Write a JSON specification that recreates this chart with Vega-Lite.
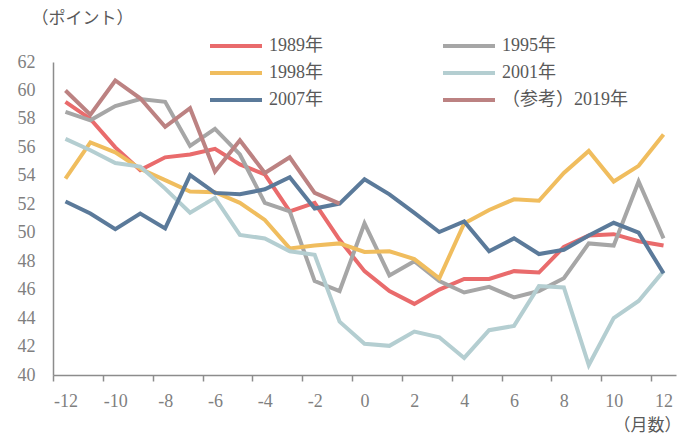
{
  "$schema": "https://vega.github.io/schema/vega-lite/v6.json",
  "width": 623,
  "height": 313,
  "autosize": {"type": "none"},
  "padding": {"left": 53, "top": 62, "right": 18, "bottom": 61},
  "background": "white",
  "config": {
    "view": {"stroke": null},
    "font": "'Liberation Serif', 'Noto Sans CJK JP', serif",
    "axis": {"labelFont": "'Liberation Serif', 'Noto Sans CJK JP', serif", "titleFont": "'Liberation Serif', 'Noto Sans CJK JP', serif"},
    "legend": {"labelFont": "'Liberation Serif', 'Noto Sans CJK JP', serif"}
  },
  "data": {"values": [
    {"m": -12, "s": "1989年", "v": 59.2}, {"m": -11, "s": "1989年", "v": 58.0}, {"m": -10, "s": "1989年", "v": 56.0}, {"m": -9, "s": "1989年", "v": 54.4}, {"m": -8, "s": "1989年", "v": 55.3}, {"m": -7, "s": "1989年", "v": 55.5}, {"m": -6, "s": "1989年", "v": 55.9}, {"m": -5, "s": "1989年", "v": 54.8}, {"m": -4, "s": "1989年", "v": 54.1}, {"m": -3, "s": "1989年", "v": 51.5}, {"m": -2, "s": "1989年", "v": 52.1}, {"m": -1, "s": "1989年", "v": 49.5}, {"m": 0, "s": "1989年", "v": 47.3}, {"m": 1, "s": "1989年", "v": 45.9}, {"m": 2, "s": "1989年", "v": 45.0}, {"m": 3, "s": "1989年", "v": 46.0}, {"m": 4, "s": "1989年", "v": 46.75}, {"m": 5, "s": "1989年", "v": 46.75}, {"m": 6, "s": "1989年", "v": 47.3}, {"m": 7, "s": "1989年", "v": 47.2}, {"m": 8, "s": "1989年", "v": 49.0}, {"m": 9, "s": "1989年", "v": 49.8}, {"m": 10, "s": "1989年", "v": 49.9}, {"m": 11, "s": "1989年", "v": 49.4}, {"m": 12, "s": "1989年", "v": 49.1},
    {"m": -12, "s": "1995年", "v": 58.5}, {"m": -11, "s": "1995年", "v": 57.9}, {"m": -10, "s": "1995年", "v": 58.9}, {"m": -9, "s": "1995年", "v": 59.4}, {"m": -8, "s": "1995年", "v": 59.2}, {"m": -7, "s": "1995年", "v": 56.1}, {"m": -6, "s": "1995年", "v": 57.3}, {"m": -5, "s": "1995年", "v": 55.5}, {"m": -4, "s": "1995年", "v": 52.1}, {"m": -3, "s": "1995年", "v": 51.5}, {"m": -2, "s": "1995年", "v": 46.6}, {"m": -1, "s": "1995年", "v": 45.9}, {"m": 0, "s": "1995年", "v": 50.65}, {"m": 1, "s": "1995年", "v": 47.0}, {"m": 2, "s": "1995年", "v": 48.0}, {"m": 3, "s": "1995年", "v": 46.6}, {"m": 4, "s": "1995年", "v": 45.8}, {"m": 5, "s": "1995年", "v": 46.2}, {"m": 6, "s": "1995年", "v": 45.45}, {"m": 7, "s": "1995年", "v": 45.9}, {"m": 8, "s": "1995年", "v": 46.8}, {"m": 9, "s": "1995年", "v": 49.25}, {"m": 10, "s": "1995年", "v": 49.1}, {"m": 11, "s": "1995年", "v": 53.6}, {"m": 12, "s": "1995年", "v": 49.6},
    {"m": -12, "s": "1998年", "v": 53.8}, {"m": -11, "s": "1998年", "v": 56.35}, {"m": -10, "s": "1998年", "v": 55.65}, {"m": -9, "s": "1998年", "v": 54.5}, {"m": -8, "s": "1998年", "v": 53.7}, {"m": -7, "s": "1998年", "v": 52.9}, {"m": -6, "s": "1998年", "v": 52.85}, {"m": -5, "s": "1998年", "v": 52.1}, {"m": -4, "s": "1998年", "v": 50.9}, {"m": -3, "s": "1998年", "v": 48.9}, {"m": -2, "s": "1998年", "v": 49.1}, {"m": -1, "s": "1998年", "v": 49.25}, {"m": 0, "s": "1998年", "v": 48.65}, {"m": 1, "s": "1998年", "v": 48.7}, {"m": 2, "s": "1998年", "v": 48.15}, {"m": 3, "s": "1998年", "v": 46.8}, {"m": 4, "s": "1998年", "v": 50.65}, {"m": 5, "s": "1998年", "v": 51.6}, {"m": 6, "s": "1998年", "v": 52.35}, {"m": 7, "s": "1998年", "v": 52.25}, {"m": 8, "s": "1998年", "v": 54.2}, {"m": 9, "s": "1998年", "v": 55.75}, {"m": 10, "s": "1998年", "v": 53.6}, {"m": 11, "s": "1998年", "v": 54.7}, {"m": 12, "s": "1998年", "v": 56.9},
    {"m": -12, "s": "2001年", "v": 56.6}, {"m": -11, "s": "2001年", "v": 55.8}, {"m": -10, "s": "2001年", "v": 54.9}, {"m": -9, "s": "2001年", "v": 54.65}, {"m": -8, "s": "2001年", "v": 53.1}, {"m": -7, "s": "2001年", "v": 51.4}, {"m": -6, "s": "2001年", "v": 52.45}, {"m": -5, "s": "2001年", "v": 49.85}, {"m": -4, "s": "2001年", "v": 49.6}, {"m": -3, "s": "2001年", "v": 48.7}, {"m": -2, "s": "2001年", "v": 48.45}, {"m": -1, "s": "2001年", "v": 43.75}, {"m": 0, "s": "2001年", "v": 42.2}, {"m": 1, "s": "2001年", "v": 42.05}, {"m": 2, "s": "2001年", "v": 43.05}, {"m": 3, "s": "2001年", "v": 42.65}, {"m": 4, "s": "2001年", "v": 41.2}, {"m": 5, "s": "2001年", "v": 43.15}, {"m": 6, "s": "2001年", "v": 43.45}, {"m": 7, "s": "2001年", "v": 46.25}, {"m": 8, "s": "2001年", "v": 46.15}, {"m": 9, "s": "2001年", "v": 40.7}, {"m": 10, "s": "2001年", "v": 44.0}, {"m": 11, "s": "2001年", "v": 45.2}, {"m": 12, "s": "2001年", "v": 47.3},
    {"m": -12, "s": "2007年", "v": 52.2}, {"m": -11, "s": "2007年", "v": 51.35}, {"m": -10, "s": "2007年", "v": 50.25}, {"m": -9, "s": "2007年", "v": 51.35}, {"m": -8, "s": "2007年", "v": 50.3}, {"m": -7, "s": "2007年", "v": 54.05}, {"m": -6, "s": "2007年", "v": 52.8}, {"m": -5, "s": "2007年", "v": 52.7}, {"m": -4, "s": "2007年", "v": 53.05}, {"m": -3, "s": "2007年", "v": 53.9}, {"m": -2, "s": "2007年", "v": 51.7}, {"m": -1, "s": "2007年", "v": 52.05}, {"m": 0, "s": "2007年", "v": 53.75}, {"m": 1, "s": "2007年", "v": 52.7}, {"m": 2, "s": "2007年", "v": 51.4}, {"m": 3, "s": "2007年", "v": 50.05}, {"m": 4, "s": "2007年", "v": 50.8}, {"m": 5, "s": "2007年", "v": 48.7}, {"m": 6, "s": "2007年", "v": 49.6}, {"m": 7, "s": "2007年", "v": 48.5}, {"m": 8, "s": "2007年", "v": 48.8}, {"m": 9, "s": "2007年", "v": 49.8}, {"m": 10, "s": "2007年", "v": 50.7}, {"m": 11, "s": "2007年", "v": 50.0}, {"m": 12, "s": "2007年", "v": 47.15},
    {"m": -12, "s": "（参考）2019年", "v": 60.0}, {"m": -11, "s": "（参考）2019年", "v": 58.3}, {"m": -10, "s": "（参考）2019年", "v": 60.7}, {"m": -9, "s": "（参考）2019年", "v": 59.45}, {"m": -8, "s": "（参考）2019年", "v": 57.45}, {"m": -7, "s": "（参考）2019年", "v": 58.75}, {"m": -6, "s": "（参考）2019年", "v": 54.3}, {"m": -5, "s": "（参考）2019年", "v": 56.5}, {"m": -4, "s": "（参考）2019年", "v": 54.2}, {"m": -3, "s": "（参考）2019年", "v": 55.3}, {"m": -2, "s": "（参考）2019年", "v": 52.8}, {"m": -1, "s": "（参考）2019年", "v": 52.05}
  ]},
  "mark": {"type": "line", "strokeJoin": "miter", "strokeCap": "butt"},
  "encoding": {
    "x": {
      "field": "m", "type": "quantitative",
      "scale": {"domain": [-12.5, 12.5], "nice": false, "zero": false},
      "axis": {
        "values": [-12, -10, -8, -6, -4, -2, 0, 2, 4, 6, 8, 10, 12],
        "labelExpr": "'' + datum.value",
        "tickOffset": -12.46, "labelOffset": 12.46,
        "grid": false, "domainColor": "#8C8C8C", "domainWidth": 1.5,
        "tickColor": "#8C8C8C", "tickWidth": 1.5, "tickSize": 6,
        "labelColor": "#7F7F7F", "labelFontSize": 18, "labelPadding": 11, "labelFlush": false,
        "title": "（月数）", "titleColor": "#595959", "titleFontSize": 17, "titleFontWeight": "normal",
        "titleAnchor": "end", "titleAlign": "right", "titleX": 628, "titleY": 50, "titleBaseline": "middle"
      }
    },
    "y": {
      "field": "v", "type": "quantitative",
      "scale": {"domain": [40, 62], "nice": false, "zero": false},
      "axis": {
        "values": [40, 42, 44, 46, 48, 50, 52, 54, 56, 58, 60, 62],
        "grid": false, "ticks": false, "domainColor": "#8C8C8C", "domainWidth": 1.5,
        "labelColor": "#7F7F7F", "labelFontSize": 18, "labelPadding": 18,
        "title": "（ポイント）", "titleColor": "#595959", "titleFontSize": 17, "titleFontWeight": "normal",
        "titleAngle": 0, "titleAlign": "left", "titleBaseline": "middle", "titleX": -22, "titleY": -44
      }
    },
    "color": {
      "field": "s", "type": "nominal",
      "scale": {
        "domain": ["1989年", "1995年", "1998年", "2001年", "2007年", "（参考）2019年"],
        "range": ["#E96B6C", "#A6A6A6", "#F0BD5E", "#B4CED1", "#5B7A9A", "#BC8282"]
      },
      "legend": {
        "title": null, "orient": "none", "legendX": 155, "legendY": -26,
        "direction": "horizontal", "columns": 2, "columnPadding": 118, "rowPadding": 7,
        "symbolType": "stroke", "symbolSize": 2704, "clipHeight": 20,
        "labelFontSize": 18, "labelColor": "#595959", "labelOffset": 5, "labelLimit": 300
      }
    },
    "strokeWidth": {
      "field": "s", "type": "nominal",
      "scale": {
        "domain": ["1989年", "1995年", "1998年", "2001年", "2007年", "（参考）2019年"],
        "range": [4, 4, 4, 4, 4, 7]
      },
      "legend": {
        "title": null, "orient": "none", "legendX": 155, "legendY": -26,
        "direction": "horizontal", "columns": 2, "columnPadding": 118, "rowPadding": 7,
        "symbolType": "stroke", "symbolSize": 2704, "clipHeight": 20,
        "labelFontSize": 18, "labelColor": "#595959", "labelOffset": 5, "labelLimit": 300
      }
    }
  }
}
